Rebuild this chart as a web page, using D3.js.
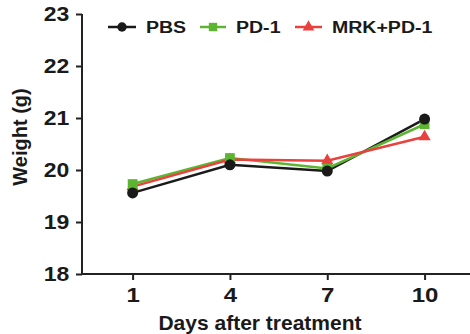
<!DOCTYPE html>
<html>
<head>
<meta charset="utf-8">
<script src="https://cdn.jsdelivr.net/npm/d3@7"></script>
<style>
  body { margin: 0; background: #fff; }
  text { font-family: "Liberation Sans", Arial, sans-serif; font-weight: bold; fill: #1a1a1a; }
</style>
</head>
<body>
<div id="chart"></div>
<script>
// data
var days = [1, 4, 7, 10];
var pbs = [19.56, 20.10, 19.98, 20.98];
var pd1 = [19.73, 20.23, 20.03, 20.88];
var mrkPd1 = [19.68, 20.20, 20.18, 20.64];
var yTicks = [18, 19, 20, 21, 22, 23];

var width = 470, height = 334;

var series = [
  {name: "PBS", values: pbs, color: "#1a1a1a", shape: d3.symbolCircle},
  {name: "PD-1", values: pd1, color: "#5cb531", shape: d3.symbolSquare},
  {name: "MRK+PD-1", values: mrkPd1, color: "#e8413e", shape: d3.symbolTriangle}
];

var x = d3.scaleLinear().domain([-0.56, 11.4]).range([82, 470]);
var y = d3.scaleLinear().domain([18, 23]).range([274, 14]);

var svg = d3.select("#chart").append("svg")
    .attr("width", width)
    .attr("height", height);

// axis-y
var gy = svg.append("g")
    .attr("transform", "translate(82,0)")
    .call(d3.axisLeft(y).tickValues(yTicks).tickFormat(d3.format("d")).tickSize(6).tickPadding(5));
gy.select(".domain").attr("stroke", "#222").attr("stroke-width", 2).attr("d", "M0," + y(23) + "V" + (y(18) + 1));
gy.selectAll(".tick line").attr("stroke", "#222").attr("stroke-width", 2);
gy.selectAll(".tick text").style("font-size", "20px").attr("font-family", null)
    .attr("transform", "scale(1.15,1)");

// axis-x
var gx = svg.append("g")
    .attr("transform", "translate(0," + y(18) + ")")
    .call(d3.axisBottom(x).tickValues(days).tickFormat(d3.format("d")).tickSize(6).tickPadding(8));
gx.select(".domain").attr("stroke", "#222").attr("stroke-width", 2).attr("d", "M81,0H470");
gx.selectAll(".tick line").attr("stroke", "#222").attr("stroke-width", 2);
gx.selectAll(".tick text").style("font-size", "20px").attr("font-family", null)
    .attr("transform", "scale(1.2,1)");

// axis titles
svg.append("text")
    .attr("x", 260)
    .attr("y", 330)
    .attr("text-anchor", "middle")
    .style("font-size", "21px")
    .text("Days after treatment");

svg.append("text")
    .attr("transform", "translate(27,137) rotate(-90)")
    .attr("text-anchor", "middle")
    .style("font-size", "20px")
    .text("Weight (g)");

// lines + markers
var line = d3.line()
    .x(function(d, i) { return x(days[i]); })
    .y(function(d) { return y(d); });

series.forEach(function(s) {
  svg.append("path")
      .attr("d", line(s.values))
      .attr("fill", "none")
      .attr("stroke", s.color)
      .attr("stroke-width", 2.5);
});

series.slice().reverse().forEach(function(s) {
  svg.selectAll(null)
      .data(s.values)
      .enter().append("path")
      .attr("transform", function(d, i) { return "translate(" + x(days[i]) + "," + y(d) + ")"; })
      .attr("d", d3.symbol().type(s.shape).size(s.shape === d3.symbolTriangle ? 65 : 95))
      .attr("fill", s.color);
});

// legend
var legendX = [108, 200, 295];
var legendW = [28, 26, 27];
series.forEach(function(s, i) {
  var g = svg.append("g").attr("transform", "translate(" + legendX[i] + ",27)");
  g.append("line")
      .attr("x1", 0).attr("x2", legendW[i])
      .attr("stroke", s.color).attr("stroke-width", 2.5);
  g.append("path")
      .attr("transform", "translate(" + legendW[i] / 2 + ",0)")
      .attr("d", d3.symbol().type(s.shape).size(s.shape === d3.symbolTriangle ? 60 : 70))
      .attr("fill", s.color);
  g.append("text")
      .attr("transform", "translate(" + (legendW[i] + 10) + ",6) scale(1.15,1)")
      .style("font-size", "17px")
      .text(s.name);
});
</script>
</body>
</html>
